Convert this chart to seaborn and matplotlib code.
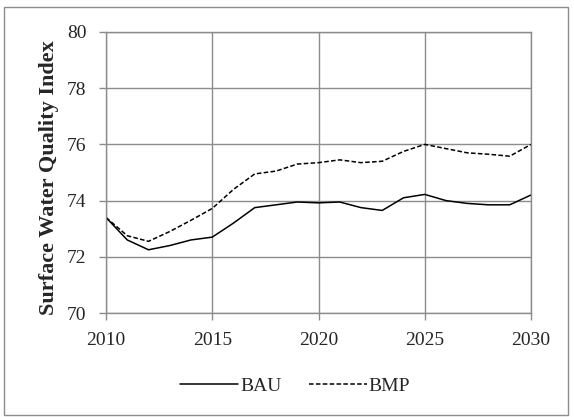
import matplotlib
matplotlib.use("Agg")
import matplotlib.pyplot as plt
import seaborn as sns
import pandas as pd
from matplotlib.patches import Rectangle

years = list(range(2010, 2031))
bau = [73.4, 72.6, 72.25, 72.4, 72.6, 72.7, 73.2, 73.75, 73.85, 73.95, 73.92,
       73.95, 73.75, 73.65, 74.1, 74.22, 74.0, 73.9, 73.85, 73.85, 74.2]
bmp = [73.4, 72.75, 72.55, 72.9, 73.3, 73.72, 74.4, 74.95, 75.05, 75.3, 75.35,
       75.45, 75.35, 75.4, 75.75, 76.0, 75.85, 75.7, 75.65, 75.58, 76.0]
series_names = ["BAU", "BMP"]
y_ticks = [70, 72, 74, 76, 78, 80]
x_ticks = [2010, 2015, 2020, 2025, 2030]

df = pd.DataFrame({
    "Year": years * 2,
    "Index": bau + bmp,
    "Scenario": [series_names[0]] * len(years) + [series_names[1]] * len(years),
})

sns.set_style("white")
plt.rcParams["font.family"] = ["Liberation Serif", "DejaVu Serif"]

fig = plt.figure(figsize=(5.74, 4.17), dpi=100)
ax = fig.add_axes([106 / 574, 1 - 313 / 417, 425 / 574, 281 / 417])

sns.lineplot(data=df, x="Year", y="Index", style="Scenario",
             style_order=series_names,
             dashes={"BAU": "", "BMP": (3, 1.5)},
             color="black", linewidth=1.1, ax=ax, legend=True)

ax.set_xlim(2010, 2030)
ax.set_ylim(70, 80)
ax.set_xticks(x_ticks)
ax.set_yticks(y_ticks)
ax.grid(True, color="#8c8c8c", linewidth=1.0)
for s in ax.spines.values():
    s.set_color("#8c8c8c")
    s.set_linewidth(1.0)
ax.tick_params(axis="both", which="major", length=5, width=1.0,
               color="#8c8c8c", labelsize=14, direction="out",
               bottom=True, left=True)
ax.tick_params(axis="x", pad=9)
ax.tick_params(axis="y", pad=9)
ax.set_xlabel("")
ax.set_ylabel("Surface Water Quality Index", fontsize=16, fontweight="bold")
ax.yaxis.set_label_coords(-0.111, 0.48)

handles, labels = ax.get_legend_handles_labels()
ax.legend_.remove()
fig.legend(handles, labels, loc="center", ncol=2,
           bbox_to_anchor=(0.514, 1 - 386 / 417), frameon=False,
           fontsize=14, handlelength=3.0, handletextpad=0.1,
           columnspacing=1.4)

fig.patches.append(Rectangle((4 / 574, 1 - 415 / 417), 564 / 574, 408 / 417,
                             transform=fig.transFigure, fill=False,
                             edgecolor="#8c8c8c", linewidth=1.0))

fig.savefig("out.png", dpi=100)
